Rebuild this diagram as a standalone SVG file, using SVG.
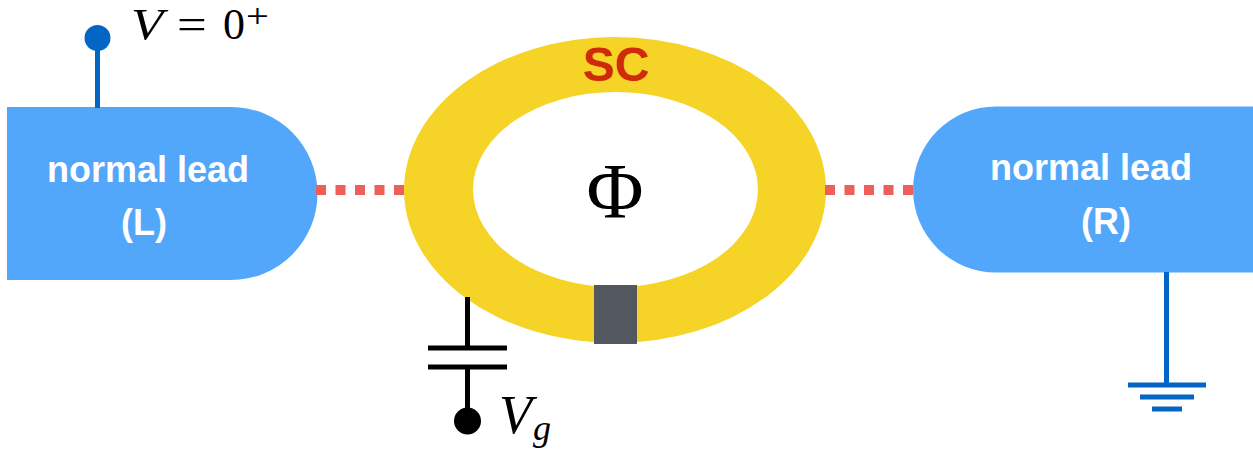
<svg xmlns="http://www.w3.org/2000/svg" width="1253" height="453" viewBox="0 0 1253 453">
<style>
.lead{fill:#52a7fb}
.lbl{font-family:"Liberation Sans",Arial,sans-serif;font-weight:700;font-size:36px;fill:#fff;text-anchor:middle}
.math{font-family:"Liberation Serif","Times New Roman",serif;fill:#000}
.blue{stroke:#0366c4;stroke-width:5;fill:none}
.blk{stroke:#000;stroke-width:5;fill:none}
.dot{stroke:#ef5f59;stroke-width:10;stroke-dasharray:10 9.5;fill:none}
</style>
<rect width="1253" height="453" fill="#fff"/>
<g id="lead-left">
<path class="lead" d="M7 107H231A86.500 86.500 0 0 1 231 280H7Z"/>
<text class="lbl" x="148" y="182">normal lead</text>
<text class="lbl" x="144" y="235">(L)</text>
</g>
<g id="lead-right">
<path class="lead" d="M1253 106.500H996A83 83 0 0 0 996 272.500H1253Z"/>
<text class="lbl" x="1091" y="180">normal lead</text>
<text class="lbl" x="1106" y="234">(R)</text>
</g>
<g id="ring">
<path fill="#f5d327" fill-rule="evenodd" d="M404 190A211 153 0 1 1 826 190A211 153 0 1 1 404 190ZM473 189.500A142.500 97.500 0 1 0 758 189.500A142.500 97.500 0 1 0 473 189.500Z"/>
<rect x="594" y="285" width="43" height="59" fill="#53575f"/>
<text x="616" y="81" font-family="'Liberation Sans',Arial,sans-serif" font-weight="700" font-size="48" fill="#cf2a0a" text-anchor="middle">SC</text>
<text class="math" x="615" y="217" font-size="78" text-anchor="middle">Φ</text>
</g>
<g id="connectors">
<path class="dot" d="M316 190H404"/>
<path class="dot" d="M825 190H913"/>
<path class="blue" d="M97.500 38V108"/>
<path class="blue" d="M1166.500 272V385"/>
<path class="blk" d="M467.500 297V348"/>
<path class="blk" d="M467.500 367V421"/>
</g>
<g id="terminal-v">
<circle cx="97.500" cy="38" r="13" fill="#0366c4"/>
<text class="math" font-size="44" font-style="italic" transform="translate(131 39) scale(1.2 1)">V</text>
<text class="math" font-size="44" transform="translate(177 39) scale(1.2 1)">=</text>
<text class="math" x="223" y="39" font-size="44">0</text>
<text class="math" font-size="30" transform="translate(246 27) scale(1.35 1.1)">+</text>
</g>
<g id="capacitor">
<path class="blk" d="M428 348H507M428 367H507"/>
<circle cx="467.500" cy="421" r="13.500" fill="#000"/>
<text class="math" x="499" y="433" font-size="54" font-style="italic">V</text>
<text class="math" x="533" y="440" font-size="36" font-style="italic">g</text>
</g>
<g id="ground">
<path class="blue" d="M1128 385H1206M1140 397H1194M1152 409H1182"/>
</g>
</svg>
